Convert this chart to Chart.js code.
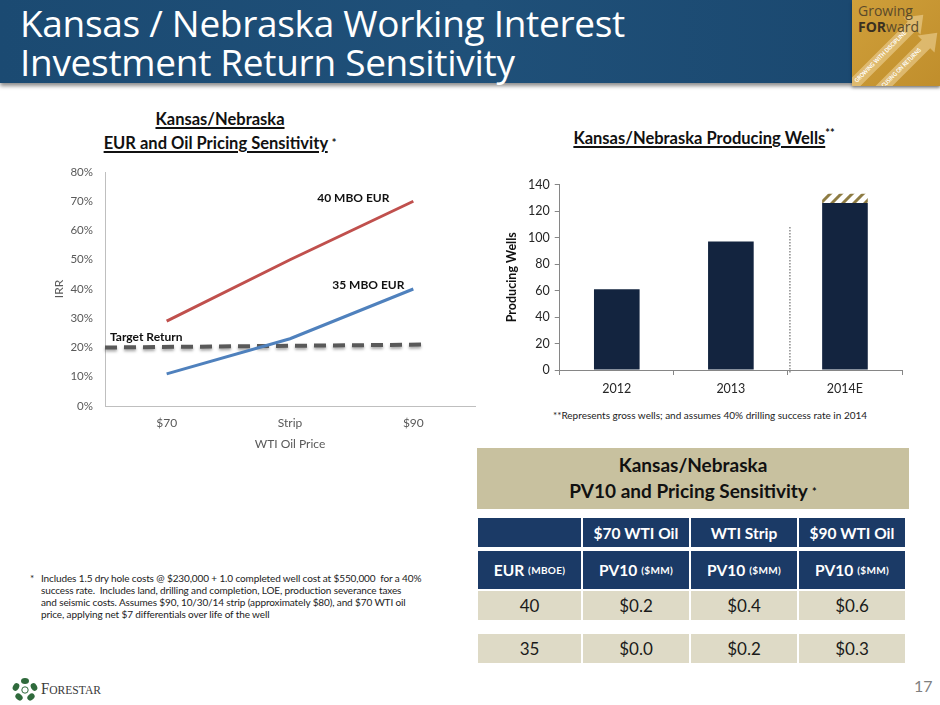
<!DOCTYPE html>
<html>
<head>
<meta charset="utf-8">
<script src="https://cdn.jsdelivr.net/npm/chart.js@4.4.0/dist/chart.umd.min.js"></script>
<style>
  body { margin: 0; width: 940px; height: 705px; overflow: hidden; background: #fff; position: relative; font-family: Lato, "Open Sans", sans-serif; }
  .abs { position: absolute; }
  #header { left: 0; top: 0; width: 940px; height: 83px; background: linear-gradient(90deg, #1b4a72 0%, #1f5079 50%, #1a476e 100%); box-shadow: 0 3px 4px rgba(0,0,0,0.45); }
  #title { left: 20px; top: 3px; color: #fff; font-family: "Open Sans", sans-serif; font-size: 37px; line-height: 39px; letter-spacing: -0.3px; }
  #logo { left: 852px; top: 0; width: 88px; height: 86px; background: linear-gradient(135deg, #cf9f3a 0%, #c08e2c 100%); overflow: hidden; box-shadow: 0 2px 3px rgba(0,0,0,0.35); }
  #logo .g1 { left: 6px; top: 1px; font-family: "Open Sans", sans-serif; font-size: 14px; color: #5b4a2a; }
  #logo .g2 { left: 6px; top: 17px; font-family: "Open Sans", sans-serif; font-size: 14px; color: #5b4a2a; }
  .ctitle { font-weight: bold; color: #111; text-align: center; font-size: 16.5px; line-height: 24px; }
  .ctitle u { text-decoration-thickness: 1.5px; text-underline-offset: 2px; }
  .star { font-size: 11px; vertical-align: 2px; }
  #foot1 { left: 30px; top: 572px; width: 440px; font-size: 10px; line-height: 12px; color: #222; white-space: nowrap; }
  #foot1 .ast { position: absolute; left: 0; top: 0; }
  #foot1 .txt { margin-left: 11px; letter-spacing: -0.12px; }
  #foot2 { left: 500px; top: 409px; width: 420px; text-align: center; font-size: 10px; color: #222; }
  #tblTitle { left: 477px; top: 448px; width: 432px; height: 61px; background: #c8c19f; text-align: center; font-weight: bold; font-size: 19px; line-height: 26px; color: #111; padding-top: 4px; box-sizing: border-box; }
  .cell { position: absolute; display: flex; align-items: center; justify-content: center; box-sizing: border-box; }
  .hd { background: #1b3a66; color: #fff; font-weight: bold; font-size: 15.5px; }
  .hd small { font-size: 10px; margin-left: 4px; letter-spacing: 0.3px; }
  .bd { background: #dedac6; color: #1a1a1a; font-size: 17px; }
  #page { left: 914px; top: 676px; font-size: 16px; color: #7f7f7f; }
  #forestar { left: 10px; top: 676px; }
</style>
</head>
<body>

<div id="header" class="abs"></div>
<div id="title" class="abs">Kansas / Nebraska Working Interest<br>Investment Return Sensitivity</div>
<div id="logo" class="abs">
  <svg class="abs" style="left:0; top:0;" width="88" height="86">
    <g fill="rgba(246,222,170,0.5)">
      <polygon points="-4.2,81.8 55.8,21.8 51.5,17.5 71.3,14.7 68.5,34.5 64.2,30.2 4.2,90.2"/>
      <polygon points="17.8,91.8 69.8,39.8 65.5,35.5 85.3,32.7 82.5,52.5 78.2,48.2 26.2,100.2"/>
    </g>
    <text transform="translate(5,83) rotate(-45)" font-family="Lato, sans-serif" font-size="6" font-weight="bold" fill="#fff" textLength="70" lengthAdjust="spacingAndGlyphs">GROWING WITH DISCIPLINE</text>
    <text transform="translate(27,93) rotate(-45)" font-family="Lato, sans-serif" font-size="6" font-weight="bold" fill="#fff" textLength="60" lengthAdjust="spacingAndGlyphs">FOCUSING ON RETURNS</text>
  </svg>
  <div class="abs g1">Growing</div>
  <div class="abs g2"><b style="color:#3b3020">FOR</b>ward</div>
</div>

<div class="abs ctitle" style="left:20px; top:107px; width:400px;"><u>Kansas/Nebraska</u><br><u>EUR and Oil Pricing Sensitivity</u> <span class="star">*</span></div>
<div class="abs ctitle" style="left:494px; top:121px; width:420px;"><u>Kansas/Nebraska Producing Wells</u><sup style="font-size:11px">**</sup></div>

<canvas id="lineChart" class="abs" style="left:40px; top:160px;" width="440" height="300"></canvas>
<canvas id="barChart" class="abs" style="left:500px; top:172px;" width="420" height="230"></canvas>

<div id="foot2" class="abs">**Represents gross wells; and assumes 40% drilling success rate in 2014</div>

<div id="foot1" class="abs"><span class="ast">*</span><div class="txt">Includes 1.5 dry hole costs @ $230,000 + 1.0 completed well cost at $550,000&nbsp; for a 40%<br>success rate.&nbsp; Includes land, drilling and completion, LOE, production severance taxes<br>and seismic costs. Assumes $90, 10/30/14 strip (approximately $80), and $70 WTI oil<br>price, applying net $7 differentials over life of the well</div></div>

<div id="tblTitle" class="abs">Kansas/Nebraska<br>PV10 and Pricing Sensitivity <span class="star">*</span></div>
<div id="table"></div>

<div id="page" class="abs">17</div>

<div id="forestar" class="abs">
  <svg width="100" height="26" viewBox="0 0 100 26">
    <g fill="#2f6a3c">
      <ellipse cx="15" cy="5" rx="4" ry="3"/>
      <ellipse cx="24" cy="11" rx="4" ry="3" transform="rotate(60 24 11)"/>
      <ellipse cx="21" cy="21" rx="4" ry="3" transform="rotate(-40 21 21)"/>
      <ellipse cx="9" cy="21" rx="4" ry="3" transform="rotate(40 9 21)"/>
      <ellipse cx="6" cy="11" rx="4" ry="3" transform="rotate(-60 6 11)"/>
    </g>
    <circle cx="15" cy="14" r="3.2" fill="#fff" stroke="#2f6a3c" stroke-width="1"/>
    <text x="31" y="18" font-family="Liberation Serif, serif" font-size="16" fill="#3a3a3a" textLength="60" lengthAdjust="spacingAndGlyphs">F<tspan font-size="12.5">ORESTAR</tspan></text>
  </svg>
</div>

<script>
// line chart: IRR by oil price
const priceLabels = ['$70', 'Strip', '$90'];
const irr40 = [29, 50, 70];
const irr35 = [11, 23, 40];
const targetX = [-0.5, 2.1];
const targetIrr = [20, 21];

// bar chart: producing wells
const wellYears = ['2012', '2013', '2014E'];
const wellsProducing = [61, 97, 126];
const wellsExpected = [0, 0, 7];
const separatorTop = 108;

// table
const tableCols = ['$70 WTI Oil', 'WTI Strip', '$90 WTI Oil'];
const eurRows = ['40', '35'];
const pv10Values = [['$0.2', '$0.4', '$0.6'], ['$0.0', '$0.2', '$0.3']];

const colX = [478, 583, 691, 799];
const colW = [103, 106, 106, 106];
const rowY = [518, 551, 591, 634];
const rowH = [29, 38, 29, 29];

function addCell(r, c, html, cls) {
    let d = document.createElement('div');
    d.className = 'cell ' + cls;
    d.style.left = colX[c] + 'px';
    d.style.top = rowY[r] + 'px';
    d.style.width = colW[c] + 'px';
    d.style.height = rowH[r] + 'px';
    d.innerHTML = html;
    document.getElementById('table').appendChild(d);
}

addCell(0, 0, '', 'hd');
for (let i = 0; i < tableCols.length; i++) addCell(0, i + 1, tableCols[i], 'hd');
addCell(1, 0, 'EUR<small>(MBOE)</small>', 'hd');
for (let i = 0; i < tableCols.length; i++) addCell(1, i + 1, 'PV10<small>($MM)</small>', 'hd');
for (let r = 0; r < eurRows.length; r++) {
    addCell(r + 2, 0, eurRows[r], 'bd');
    for (let c = 0; c < pv10Values[r].length; c++) addCell(r + 2, c + 1, pv10Values[r][c], 'bd');
}

Chart.defaults.font.family = 'Lato, sans-serif';
Chart.defaults.animation = false;

const lineNotes = {
    id: 'lineNotes',
    beforeDatasetDraw(chart, args) {
        if (args.index === 2) {
            chart.ctx.save();
            chart.ctx.shadowColor = 'rgba(0,0,0,0.35)';
            chart.ctx.shadowBlur = 3;
            chart.ctx.shadowOffsetY = 2;
        }
    },
    afterDatasetDraw(chart, args) {
        if (args.index === 2) chart.ctx.restore();
    },
    afterDatasetsDraw(chart) {
        const ctx = chart.ctx;
        const x = chart.scales.x, y = chart.scales.y;
        ctx.save();
        ctx.font = 'bold 12px Lato, sans-serif';
        ctx.fillStyle = '#111';
        ctx.textBaseline = 'middle';
        ctx.textAlign = 'center';
        ctx.fillText('40 MBO EUR', x.getPixelForValue(2) - 60, y.getPixelForValue(irr40[2]) - 3);
        ctx.fillText('35 MBO EUR', x.getPixelForValue(2) - 45, y.getPixelForValue(irr35[2]) - 4);
        ctx.textAlign = 'left';
        ctx.fillText('Target Return', x.left + 5, y.getPixelForValue(targetIrr[0]) - 10);
        ctx.restore();
    }
};

new Chart(document.getElementById('lineChart'), {
    type: 'line',
    data: {
        datasets: [
            { data: irr40.map((v, i) => ({ x: i, y: v })), borderColor: '#c0504d', borderWidth: 3, pointRadius: 0 },
            { data: irr35.map((v, i) => ({ x: i, y: v })), borderColor: '#4f81bd', borderWidth: 3, pointRadius: 0 },
            { data: targetX.map((v, i) => ({ x: v, y: targetIrr[i] })), borderColor: '#595959', borderWidth: 4, borderDash: [12, 7], pointRadius: 0, clip: false }
        ]
    },
    options: {
        responsive: false,
        layout: { padding: { top: 0, right: 5, left: 8, bottom: 5 } },
        plugins: { legend: { display: false }, tooltip: { enabled: false } },
        scales: {
            x: {
                type: 'linear', min: -0.5, max: 2.5,
                afterBuildTicks: axis => { axis.ticks = priceLabels.map((l, i) => ({ value: i })); },
                afterFit: axis => { axis.height = 49; },
                ticks: { callback: v => priceLabels[v], color: '#595959', font: { size: 12 }, padding: 10 },
                grid: { display: false, drawTicks: false },
                border: { display: true, color: '#bfbfbf' },
                title: { display: true, text: 'WTI Oil Price', color: '#595959', font: { size: 12 }, padding: { top: 6, bottom: 4 } }
            },
            y: {
                min: 0, max: 80,
                afterFit: axis => { axis.width = 57; axis.paddingTop = 12; axis.paddingBottom = 8; },
                ticks: { stepSize: 10, callback: v => v + '%', color: '#595959', font: { size: 11.5 }, padding: 12 },
                grid: { display: false, drawTicks: false },
                border: { display: true, color: '#bfbfbf' },
                title: { display: true, text: 'IRR', color: '#595959', font: { size: 12 } }
            }
        }
    },
    plugins: [lineNotes]
});

function makeHatch() {
    let c = document.createElement('canvas');
    c.width = 11; c.height = 11;
    let g = c.getContext('2d');
    g.fillStyle = '#ffffff';
    g.fillRect(0, 0, 11, 11);
    g.strokeStyle = '#8e7c43';
    g.lineWidth = 3;
    g.beginPath();
    g.moveTo(-2, 13); g.lineTo(13, -2);
    g.moveTo(-3, 3); g.lineTo(3, -3);
    g.moveTo(8, 14); g.lineTo(14, 8);
    g.stroke();
    return g.createPattern(c, 'repeat');
}

const separator = {
    id: 'separator',
    afterDatasetsDraw(chart) {
        const ctx = chart.ctx;
        const x = chart.scales.x, y = chart.scales.y;
        let px = (x.getPixelForValue(1) + x.getPixelForValue(2)) / 2 + 2;
        ctx.save();
        ctx.strokeStyle = '#8c8c8c';
        ctx.lineWidth = 1.5;
        ctx.setLineDash([1.5, 1.5]);
        ctx.beginPath();
        ctx.moveTo(px, y.getPixelForValue(separatorTop));
        ctx.lineTo(px, y.getPixelForValue(0) + 4);
        ctx.stroke();
        ctx.restore();
    }
};

new Chart(document.getElementById('barChart'), {
    type: 'bar',
    data: {
        labels: wellYears,
        datasets: [
            { data: wellsProducing, backgroundColor: '#13243f', categoryPercentage: 1, barPercentage: 0.4 },
            { data: wellsExpected, backgroundColor: makeHatch(), categoryPercentage: 1, barPercentage: 0.4 }
        ]
    },
    options: {
        responsive: false,
        layout: { padding: { top: 7, right: 18, left: 0, bottom: 0 } },
        plugins: { legend: { display: false }, tooltip: { enabled: false } },
        scales: {
            x: {
                stacked: true,
                ticks: { color: '#262626', font: { size: 12.5 }, padding: 6 },
                grid: { drawOnChartArea: false, tickLength: 5, color: '#868686' },
                border: { color: '#868686' }
            },
            y: {
                stacked: true, min: 0, max: 140,
                ticks: { stepSize: 20, color: '#262626', font: { size: 12.5 }, padding: 5 },
                grid: { drawOnChartArea: false, tickLength: 5, color: '#868686' },
                border: { color: '#868686' },
                title: { display: true, text: 'Producing Wells', color: '#111', font: { size: 12.5, weight: 'bold' }, padding: { bottom: 4 } }
            }
        }
    },
    plugins: [separator]
});
</script>
</body>
</html>
